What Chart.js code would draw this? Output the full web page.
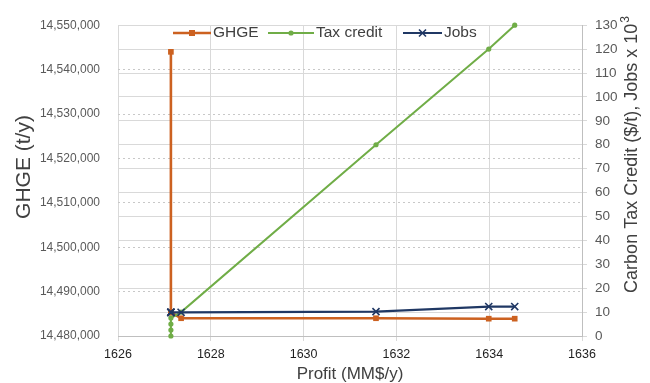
<!DOCTYPE html>
<html>
<head>
<meta charset="utf-8">
<script src="https://cdn.jsdelivr.net/npm/chart.js"></script>
<style>
  html, body { margin: 0; padding: 0; background: #ffffff; }
  #wrap { width: 650px; height: 383px; }
</style>
</head>
<body>
<div id="wrap"><canvas id="chart" width="650" height="383"></canvas></div>
<script>
// Profit (MM$/y) for each carbon tax credit level
const profit = [1627.14, 1627.14, 1627.14, 1627.14, 1627.36, 1631.56, 1633.99, 1634.55];
// Greenhouse gas emissions (t/y)
const ghge = [14544000, 14485300, 14485300, 14485300, 14484000, 14484000, 14483900, 14483900];
// Carbon tax credit ($/t)
const taxCredit = [0, 2.5, 5, 7.5, 10, 80, 120, 130];
// Jobs (x 10^3)
const jobs = [9.9, 9.9, 9.9, 9.9, 9.9, 10.2, 12.3, 12.3];

const seriesNames = ['GHGE', 'Tax credit', 'Jobs'];
const xTitle = 'Profit (MM$/y)';
const yLeftTitle = 'GHGE (t/y)';
const yRightTitle = 'Carbon Tax Credit ($/t), Jobs x 10';
const yRightSup = '3';

const ORANGE = '#CC6120';
const GREEN = '#70AD47';
const NAVY = '#203864';
const FONT = '"Liberation Sans", Arial, sans-serif';

const pts = (ys) => profit.map((x, i) => ({ x: x, y: ys[i] }));

function drawMarker(ctx, kind, x, y, color) {
  ctx.save();
  ctx.fillStyle = color;
  ctx.strokeStyle = color;
  if (kind === 'rect') {
    ctx.fillRect(x - 3, y - 3, 6, 6);
  } else if (kind === 'circle') {
    ctx.beginPath();
    ctx.arc(x, y, 2.6, 0, Math.PI * 2);
    ctx.fill();
  } else {
    ctx.lineWidth = 1.6;
    ctx.beginPath();
    ctx.moveTo(x - 3.5, y - 3.5); ctx.lineTo(x + 3.5, y + 3.5);
    ctx.moveTo(x + 3.5, y - 3.5); ctx.lineTo(x - 3.5, y + 3.5);
    ctx.stroke();
  }
  ctx.restore();
}

// Axis titles and the in-plot legend
const decorations = {
  id: 'decorations',
  afterDraw(chart) {
    const ctx = chart.ctx;
    const area = chart.chartArea;
    ctx.save();
    ctx.fillStyle = '#404040';
    ctx.textBaseline = 'middle';

    // x title
    ctx.font = '17px ' + FONT;
    ctx.textAlign = 'center';
    ctx.fillText(xTitle, (area.left + area.right) / 2, 374);

    // left title
    ctx.save();
    ctx.translate(24, 167);
    ctx.rotate(-Math.PI / 2);
    ctx.font = '21px ' + FONT;
    ctx.textAlign = 'center';
    ctx.fillText(yLeftTitle, 0, 0);
    ctx.restore();

    // right title, reading bottom to top, with superscript
    ctx.save();
    ctx.translate(632, 155);
    ctx.rotate(-Math.PI / 2);
    ctx.font = '18px ' + FONT;
    const wMain = ctx.measureText(yRightTitle).width;
    ctx.font = '12px ' + FONT;
    const wSup = ctx.measureText(yRightSup).width;
    const start = -(wMain + wSup) / 2;
    ctx.textAlign = 'left';
    ctx.font = '18px ' + FONT;
    ctx.fillText(yRightTitle, start, 0);
    ctx.font = '12px ' + FONT;
    ctx.fillText(yRightSup, start + wMain + 1, -6);
    ctx.restore();

    // legend
    const items = [
      { name: seriesNames[0], color: ORANGE, kind: 'rect', x0: 173, x1: 211, lw: 2.5 },
      { name: seriesNames[1], color: GREEN, kind: 'circle', x0: 268, x1: 314, lw: 2 },
      { name: seriesNames[2], color: NAVY, kind: 'x', x0: 403, x1: 442, lw: 2 }
    ];
    const ly = 33;
    items.forEach(it => {
      ctx.save();
      ctx.strokeStyle = it.color;
      ctx.lineWidth = it.lw;
      ctx.beginPath();
      ctx.moveTo(it.x0, ly);
      ctx.lineTo(it.x1, ly);
      ctx.stroke();
      ctx.restore();
      drawMarker(ctx, it.kind, (it.x0 + it.x1) / 2, ly, it.color);
      ctx.font = '15.5px ' + FONT;
      ctx.fillStyle = '#404040';
      ctx.textAlign = 'left';
      ctx.fillText(it.name, it.x1 + 2, ly);
    });
    ctx.restore();
  }
};

new Chart(document.getElementById('chart'), {
  type: 'line',
  data: {
    datasets: [
      {
        label: seriesNames[0],
        data: pts(ghge),
        yAxisID: 'yL',
        borderColor: ORANGE,
        backgroundColor: ORANGE,
        borderWidth: 2.6,
        pointStyle: 'rect',
        pointRadius: 4,
        pointBorderWidth: 0,
        order: 2,
        clip: false
      },
      {
        label: seriesNames[1],
        data: pts(taxCredit),
        yAxisID: 'yR',
        borderColor: GREEN,
        backgroundColor: GREEN,
        borderWidth: 2,
        pointStyle: 'circle',
        pointRadius: 2.6,
        pointBorderWidth: 0,
        order: 1,
        clip: false
      },
      {
        label: seriesNames[2],
        data: pts(jobs),
        yAxisID: 'yR',
        borderColor: NAVY,
        backgroundColor: NAVY,
        borderWidth: 2.2,
        pointStyle: 'crossRot',
        pointRadius: 5,
        pointBorderWidth: 1.6,
        order: 0,
        clip: false
      }
    ]
  },
  options: {
    responsive: false,
    animation: false,
    events: [],
    layout: { padding: { top: 17, left: 0, right: 0, bottom: 0 } },
    plugins: { legend: { display: false }, tooltip: { enabled: false } },
    elements: { line: { tension: 0 } },
    scales: {
      x: {
        type: 'linear',
        min: 1626, max: 1636,
        afterFit: (s) => { s.height = 47; },
        ticks: {
          stepSize: 2,
          color: '#1f1f1f',
          padding: 6,
          font: { family: FONT, size: 12.5 },
          maxRotation: 0,
          callback: (v) => String(v)
        },
        grid: { color: '#d9d9d9', lineWidth: 1, tickLength: 5 },
        border: { color: '#bfbfbf' }
      },
      yL: {
        type: 'linear',
        position: 'left',
        min: 14480000, max: 14550000,
        afterFit: (s) => { s.width = 118; },
        ticks: {
          stepSize: 10000,
          color: '#595959',
          padding: 18,
          font: { family: FONT, size: 12 },
          callback: (v) => Number(v).toLocaleString('en-US')
        },
        grid: { color: '#c8c8c8', drawTicks: false },
        border: { display: false, dash: [2, 3] }
      },
      yR: {
        type: 'linear',
        position: 'right',
        min: 0, max: 130,
        afterFit: (s) => { s.width = 68; },
        ticks: { stepSize: 10, color: '#595959', padding: 8, font: { family: FONT, size: 13.5 } },
        grid: { color: '#d9d9d9', tickLength: 5 },
        border: { color: '#bfbfbf' }
      }
    }
  },
  plugins: [decorations]
});
</script>
</body>
</html>
